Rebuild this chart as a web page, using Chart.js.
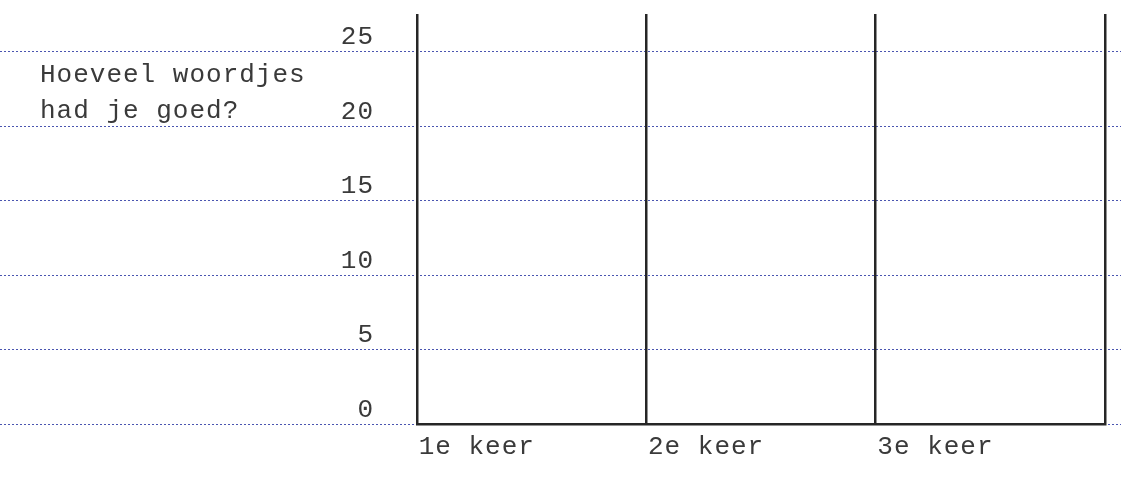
<!DOCTYPE html>
<html>
<head>
<meta charset="utf-8">
<script src="https://cdn.jsdelivr.net/npm/chart.js@4.4.0/dist/chart.umd.min.js"></script>
<style>
  html, body { margin: 0; padding: 0; background: #fff; }
  #wrap { width: 1121px; height: 477px; }
</style>
</head>
<body>
<div id="wrap"><canvas id="chart"></canvas></div>
<script>
const categories = ["1e keer", "2e keer", "3e keer"];
const scores = [null, null, null];
const yTicks = [0, 5, 10, 15, 20, 25];
const yMax = 27.5;
const questionLines = ["Hoeveel woordjes", "had je goed?"];

const textColor = "#3a3a3a";
const lineColor = "#262626";
const font = { family: "Liberation Mono", size: 26, lineHeight: 1 };

const fullWidthGrid = {
    id: "fullWidthGrid",
    beforeDraw(chart) {
        const ctx = chart.ctx;
        const y = chart.scales.y;
        ctx.letterSpacing = "1px";
        ctx.save();
        ctx.strokeStyle = "#4a55b0";
        ctx.lineWidth = 1;
        ctx.setLineDash([2, 2]);
        yTicks.forEach(v => {
            const py = Math.round(y.getPixelForValue(v)) + 0.5;
            ctx.beginPath();
            ctx.moveTo(0, py);
            ctx.lineTo(chart.width, py);
            ctx.stroke();
        });
        ctx.restore();
    },
    afterDraw(chart) {
        const ctx = chart.ctx;
        ctx.save();
        ctx.fillStyle = textColor;
        ctx.font = `${font.size}px "${font.family}"`;
        ctx.textAlign = "left";
        ctx.textBaseline = "alphabetic";
        questionLines.forEach((line, i) => {
            ctx.fillText(line, 40, 82 + i * 36);
        });
        ctx.restore();
    }
};

new Chart(document.getElementById("chart"), {
    type: "bar",
    data: {
        labels: categories,
        datasets: [{
            data: scores,
            backgroundColor: "#888"
        }]
    },
    options: {
        responsive: true,
        maintainAspectRatio: false,
        animation: false,
        layout: { padding: { top: 14, right: 16, left: 0, bottom: 0 } },
        plugins: {
            legend: { display: false },
            tooltip: { enabled: false }
        },
        scales: {
            x: {
                offset: true,
                grid: {
                    offset: true,
                    color: lineColor,
                    lineWidth: 2.5,
                    drawTicks: false
                },
                border: { display: true, color: lineColor, width: 2.5 },
                ticks: {
                    color: textColor,
                    font: font,
                    align: "start",
                    labelOffset: -113,
                    padding: 10,
                    maxRotation: 0
                },
                afterFit(scale) { scale.height = 53; }
            },
            y: {
                min: 0,
                max: yMax,
                grid: { display: false, drawTicks: true, tickLength: 43 },
                border: { display: false },
                ticks: {
                    stepSize: 5,
                    includeBounds: false,
                    color: textColor,
                    font: font,
                    padding: 0,
                    labelOffset: -14
                },
                afterFit(scale) { scale.width = 417; }
            }
        }
    },
    plugins: [fullWidthGrid]
});
</script>
</body>
</html>
